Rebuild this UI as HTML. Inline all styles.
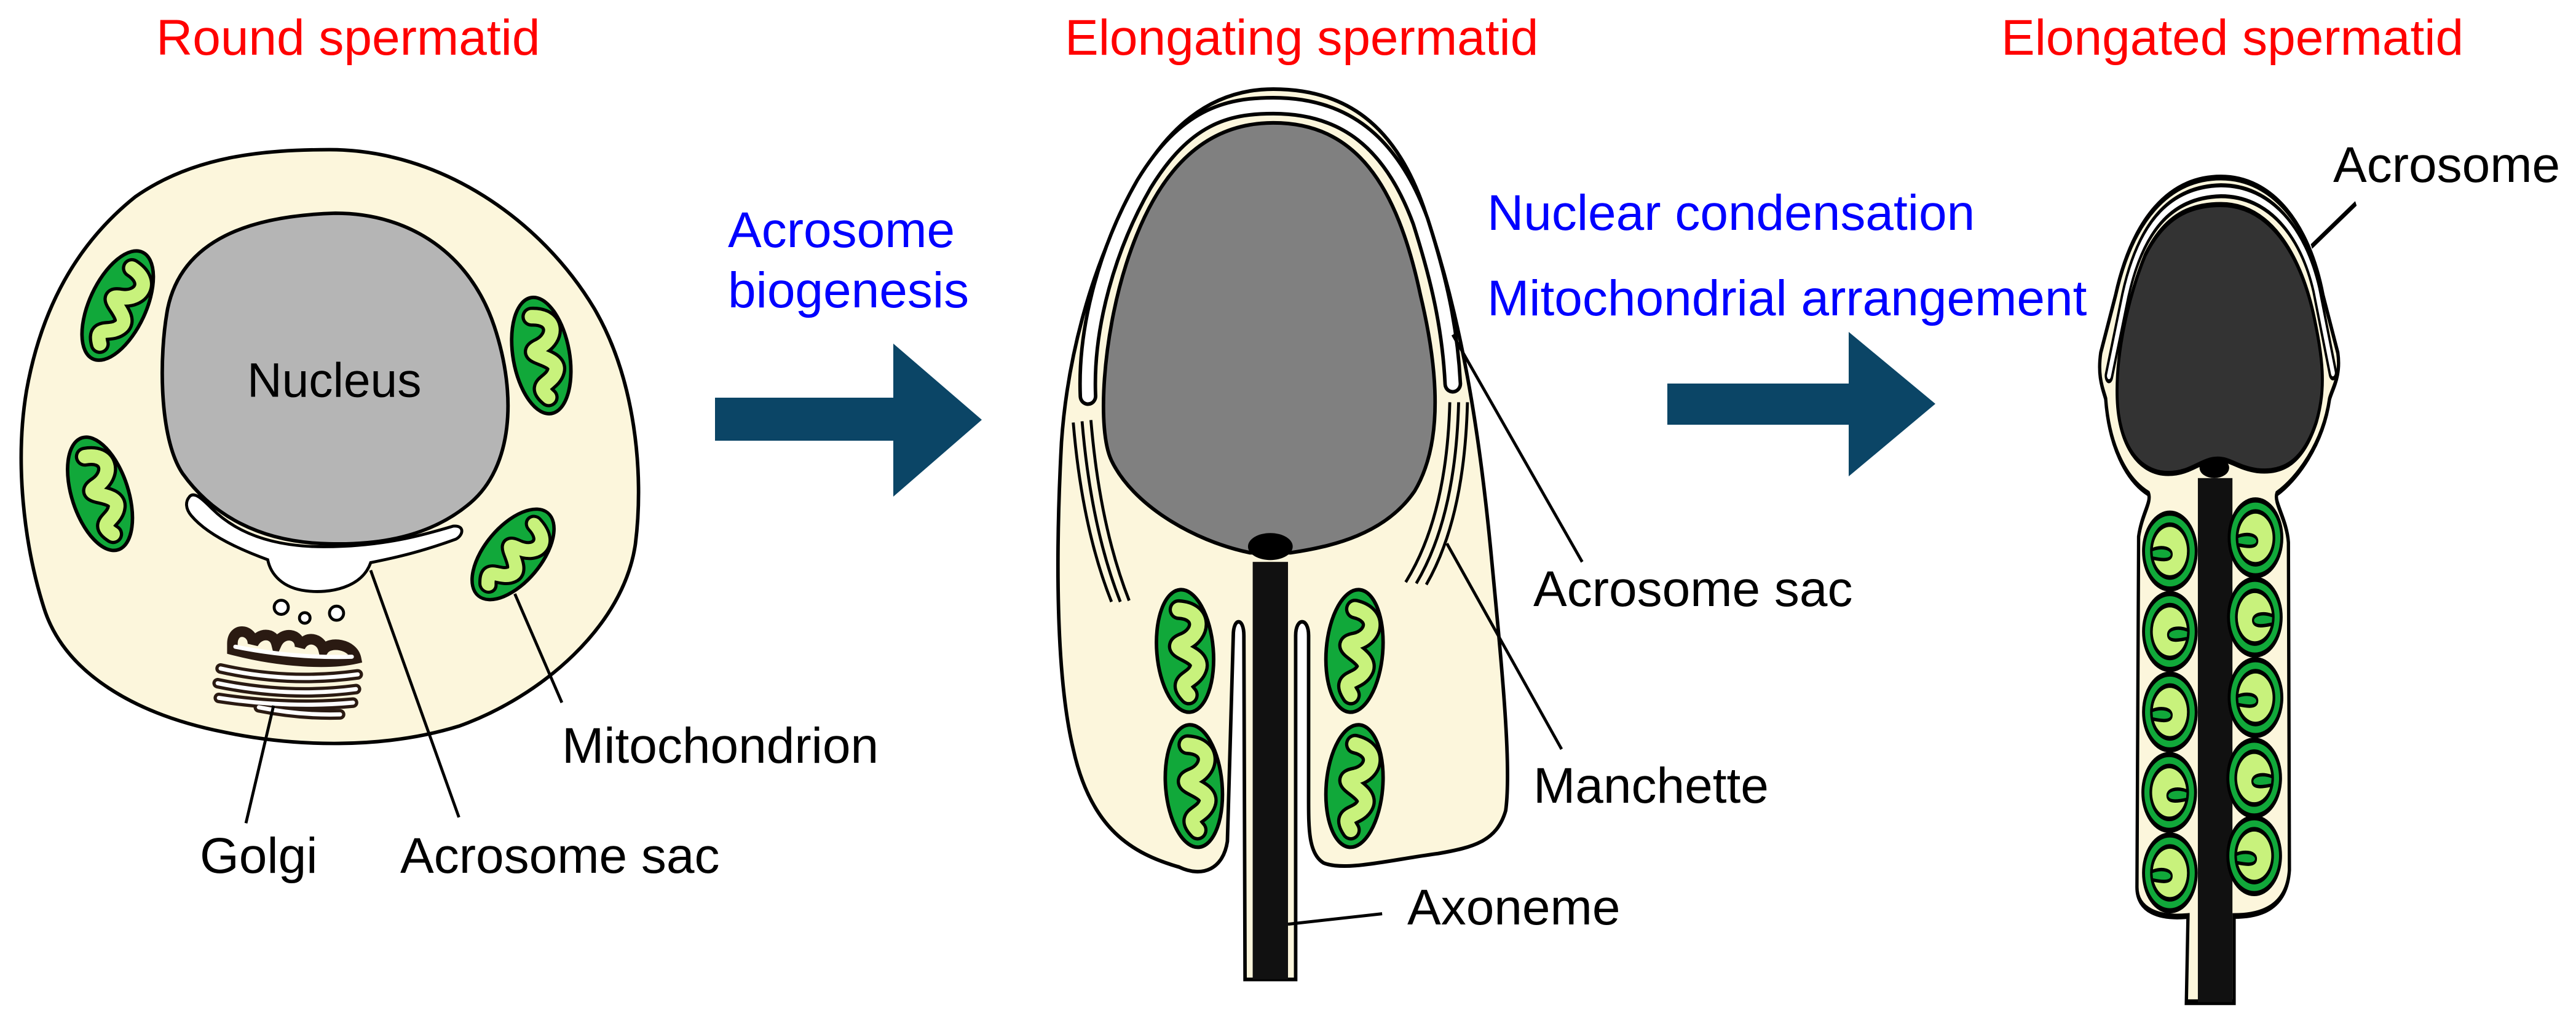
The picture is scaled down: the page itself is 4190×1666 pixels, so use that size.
<!DOCTYPE html>
<html><head><meta charset="utf-8"><style>
html,body{margin:0;padding:0;background:#fff;}
svg{display:block;}
text{font-family:"Liberation Sans",Arial,sans-serif;font-size:82px;}
</style></head><body>
<svg xmlns="http://www.w3.org/2000/svg" xmlns:xlink="http://www.w3.org/1999/xlink" width="4190" height="1666" viewBox="0 0 4190 1666">
<defs>
  <g id="mito">
    <ellipse cx="0" cy="0" rx="48" ry="100" fill="#11a83a" stroke="#000" stroke-width="6"/>
    <path d="M -5,-68 C 38,-62 32,-25 0,-15 C -38,-5 32,5 20,30 C 10,52 -22,45 0,72" fill="none" stroke="#000" stroke-width="34" stroke-linecap="round"/>
    <path d="M -5,-68 C 38,-62 32,-25 0,-15 C -38,-5 32,5 20,30 C 10,52 -22,45 0,72" fill="none" stroke="#c8f27c" stroke-width="23" stroke-linecap="round"/>
  </g>
  <g id="mitoR">
    <ellipse cx="0" cy="0" rx="80" ry="66" fill="#11a83a" stroke="#000" stroke-width="9"/>
    <ellipse cx="0" cy="0" rx="56" ry="46" fill="#c8f27c" stroke="#000" stroke-width="8"/>
    <path d="M -56,-2 C -25,-10 10,-5 5,8 C 0,18 -30,15 -54,12 Z" fill="#11a83a" stroke="#000" stroke-width="6"/>
  </g>
</defs>

<!-- Titles -->
<text x="254" y="89" fill="#ff0000">Round spermatid</text>
<text x="1732" y="89" fill="#ff0000">Elongating spermatid</text>
<text x="3255" y="89" fill="#ff0000">Elongated spermatid</text>

<text x="1184" y="402" fill="#0000ff">Acrosome</text>
<text x="1184" y="500" fill="#0000ff">biogenesis</text>
<text x="2419" y="374" fill="#0000ff">Nuclear condensation</text>
<text x="2419" y="513" fill="#0000ff">Mitochondrial arrangement</text>

<!-- Arrows -->
<rect x="1163" y="647" width="292" height="70" fill="#0b4566"/>
<polygon points="1453,559 1597,683 1453,808" fill="#0b4566"/>
<rect x="2712" y="624" width="297" height="67" fill="#0b4566"/>
<polygon points="3007,540 3148,657 3007,775" fill="#0b4566"/>

<!-- Cell 1 -->
<g transform="translate(0,100) scale(0.957)">
  <path d="M 560,150 C 750,150 920,270 1010,420 C 1080,540 1095,700 1080,820 C 1060,960 920,1080 780,1130 C 650,1170 500,1165 380,1140 C 230,1110 110,1040 75,930 C 40,820 25,680 45,560 C 70,420 130,310 230,230 C 330,160 450,150 560,150 Z" fill="#fcf6dc" stroke="#000" stroke-width="6"/>
  <path d="M 570,258 C 700,258 800,330 840,450 C 880,570 870,690 800,750 C 730,810 640,822 560,820 C 440,818 360,770 310,700 C 270,640 270,500 285,420 C 310,300 430,262 570,258 Z" fill="#b5b5b5" stroke="#000" stroke-width="6"/>
  <path d="M 322,740 C 330,730 345,745 360,760 C 400,800 460,825 550,825 C 650,825 720,805 770,790 C 790,788 788,805 775,812 C 720,832 680,842 630,852 C 615,895 560,905 520,900 C 480,895 460,872 455,847 C 400,827 350,802 325,772 C 315,760 315,748 322,740 Z" fill="#fff" stroke="#000" stroke-width="5"/>
  <text x="420" y="570" fill="#000" font-size="85.7">Nucleus</text>
  <use xlink:href="#mito" transform="translate(200,415) rotate(25)"/>
  <use xlink:href="#mito" transform="translate(920,500) rotate(-10)"/>
  <use xlink:href="#mito" transform="translate(170,735) rotate(-18)"/>
  <use xlink:href="#mito" transform="translate(872,838) rotate(40) scale(1,0.92)"/>
  <!-- Golgi -->
  <g fill="none" stroke-linecap="round">
    <g stroke="#2a1a12" stroke-width="18">
      <path d="M 395,990 C 395,960 430,965 430,990 C 440,970 465,970 470,990 C 480,968 510,972 510,995 C 520,975 545,980 550,1000 C 560,985 600,990 605,1015 C 560,1025 480,1022 395,1000 Z"/>
      <path d="M 375,1032 Q 490,1058 608,1042"/>
      <path d="M 370,1057 Q 490,1082 605,1067"/>
      <path d="M 372,1082 Q 490,1100 600,1090"/>
      <path d="M 440,1098 Q 510,1112 578,1110"/>
    </g>
    <g stroke="#fff" stroke-width="7">
      <path d="M 400,995 Q 500,1015 598,1012"/>
      <path d="M 375,1032 Q 490,1058 608,1042"/>
      <path d="M 370,1057 Q 490,1082 605,1067"/>
      <path d="M 372,1082 Q 490,1100 600,1090"/>
      <path d="M 440,1098 Q 510,1112 578,1110"/>
    </g>
  </g>
  <circle cx="478" cy="928" r="12" fill="#fff" stroke="#000" stroke-width="5"/>
  <circle cx="518" cy="946" r="9" fill="#fff" stroke="#000" stroke-width="5"/>
  <circle cx="572" cy="938" r="12" fill="#fff" stroke="#000" stroke-width="5"/>
  <g stroke="#000" stroke-width="5">
    <line x1="465" y1="1095" x2="418" y2="1295"/>
    <line x1="630" y1="865" x2="780" y2="1285"/>
    <line x1="875" y1="905" x2="955" y2="1090"/>
  </g>
</g>
<text x="325" y="1420" fill="#000">Golgi</text>
<text x="651" y="1420" fill="#000">Acrosome sac</text>
<text x="914" y="1241" fill="#000">Mitochondrion</text>

<!-- Cell 2 -->
<g transform="translate(1650,100) scale(0.957,0.999)">
  <path d="M 440,45 C 560,45 650,100 700,250 C 760,420 790,600 810,800 C 830,1000 845,1150 835,1220 C 820,1270 780,1280 720,1290 C 640,1300 560,1320 525,1305 C 500,1290 500,1250 500,1200 L 500,935 C 500,905 478,905 478,935 L 478,1495 L 392,1495 L 390,935 C 390,905 372,905 372,935 L 362,1270 C 355,1315 320,1330 280,1312 C 200,1290 130,1250 100,1120 C 70,1000 70,800 80,620 C 90,480 130,350 180,250 C 250,100 340,45 440,45 Z" fill="#fcf6dc" stroke="#000" stroke-width="6"/>
  <path d="M 376,1495 L 376,935 Q 381,918 386,935 L 388,1495 Z" fill="#fff"/>
  <path d="M 482,1495 L 482,935 Q 489,918 496,935 L 496,1495 Z" fill="#fff"/>
  <path d="M 125,545 C 120,430 160,300 220,200 C 290,90 360,72 440,72 C 560,72 640,130 690,260 C 720,350 740,430 745,525" fill="none" stroke="#000" stroke-width="32" stroke-linecap="round"/>
  <path d="M 125,545 C 120,430 160,300 220,200 C 290,90 360,72 440,72 C 560,72 640,130 690,260 C 720,350 740,430 745,525" fill="none" stroke="#fff" stroke-width="20" stroke-linecap="round"/>
  <path d="M 440,100 C 580,100 650,200 690,380 C 720,500 730,620 680,700 C 630,770 540,790 470,800 L 400,800 C 300,780 200,720 165,650 C 140,600 150,450 190,330 C 240,180 320,100 440,100 Z" fill="#808080" stroke="#000" stroke-width="6"/>
  <ellipse cx="435" cy="790" rx="38" ry="22" fill="#000"/>
  <rect x="405" y="815" width="60" height="680" fill="#111"/>
  <g stroke="#000" stroke-width="5" fill="none">
    <path d="M 100,588 Q 115,760 165,880"/>
    <path d="M 115,586 Q 130,758 180,880"/>
    <path d="M 130,584 Q 145,756 195,878"/>
    <path d="M 740,555 Q 735,740 665,848"/>
    <path d="M 755,555 Q 750,742 683,850"/>
    <path d="M 770,555 Q 765,744 700,852"/>
    <line x1="745" y1="445" x2="965" y2="815"/>
    <line x1="735" y1="785" x2="930" y2="1120"/>
    <line x1="465" y1="1405" x2="625" y2="1388"/>
  </g>
  <use xlink:href="#mito" transform="translate(290,960) rotate(-5)"/>
  <use xlink:href="#mito" transform="translate(578,960) rotate(5)"/>
  <use xlink:href="#mito" transform="translate(305,1180) rotate(-5)"/>
  <use xlink:href="#mito" transform="translate(578,1180) rotate(5)"/>
</g>
<text x="2494" y="986" fill="#000">Acrosome sac</text>
<text x="2494" y="1306" fill="#000">Manchette</text>
<text x="2289" y="1504" fill="#000">Axoneme</text>

<!-- Cell 3 -->
<g transform="translate(3350,200) scale(0.5356,0.935)">
  <path d="M 490,95 C 650,95 760,180 800,300 L 845,400 C 855,440 830,460 820,480 C 800,560 720,620 660,645 C 650,660 690,690 695,730 L 698,1300 C 690,1370 600,1380 530,1380 L 530,1530 L 385,1530 L 390,1380 C 300,1385 235,1370 235,1330 L 240,720 C 250,680 280,660 270,645 C 200,620 150,560 140,480 C 130,460 115,440 125,400 L 170,300 C 220,170 330,95 490,95 Z" fill="#fcf6dc" stroke="#000" stroke-width="10"/>
  <path d="M 150,440 L 200,300 C 250,170 350,120 490,118 C 640,118 740,190 780,290 L 830,435" fill="none" stroke="#000" stroke-width="26" stroke-linecap="round"/>
  <path d="M 150,440 L 200,300 C 250,170 350,120 490,118 C 640,118 740,190 780,290 L 830,435" fill="none" stroke="#fff" stroke-width="12" stroke-linecap="round"/>
  <path d="M 490,142 C 640,142 730,230 770,330 C 800,410 810,460 780,520 C 740,590 680,610 600,605 C 540,600 520,585 480,585 C 430,585 400,610 330,610 C 240,610 180,560 175,480 C 170,400 210,300 260,230 C 320,160 400,142 490,142 Z" fill="#333" stroke="#000" stroke-width="9"/>
  <ellipse cx="470" cy="600" rx="45" ry="18" fill="#000"/>
  <rect x="420" y="618" width="105" height="912" fill="#111"/>
  <use xlink:href="#mitoR" transform="translate(335,745)"/>
  <use xlink:href="#mitoR" transform="translate(335,885) scale(-1,1)"/>
  <use xlink:href="#mitoR" transform="translate(335,1025)"/>
  <use xlink:href="#mitoR" transform="translate(333,1165) scale(-1,1)"/>
  <use xlink:href="#mitoR" transform="translate(335,1305)"/>
  <use xlink:href="#mitoR" transform="translate(595,722)"/>
  <use xlink:href="#mitoR" transform="translate(593,860) scale(-1,1)"/>
  <use xlink:href="#mitoR" transform="translate(595,1000)"/>
  <use xlink:href="#mitoR" transform="translate(591,1140) scale(-1,1)"/>
  <use xlink:href="#mitoR" transform="translate(591,1275)"/>
  <line x1="900" y1="140" x2="765" y2="215" stroke="#000" stroke-width="9"/>
</g>
<text x="3795" y="296" fill="#000">Acrosome</text>
</svg>
</body></html>
